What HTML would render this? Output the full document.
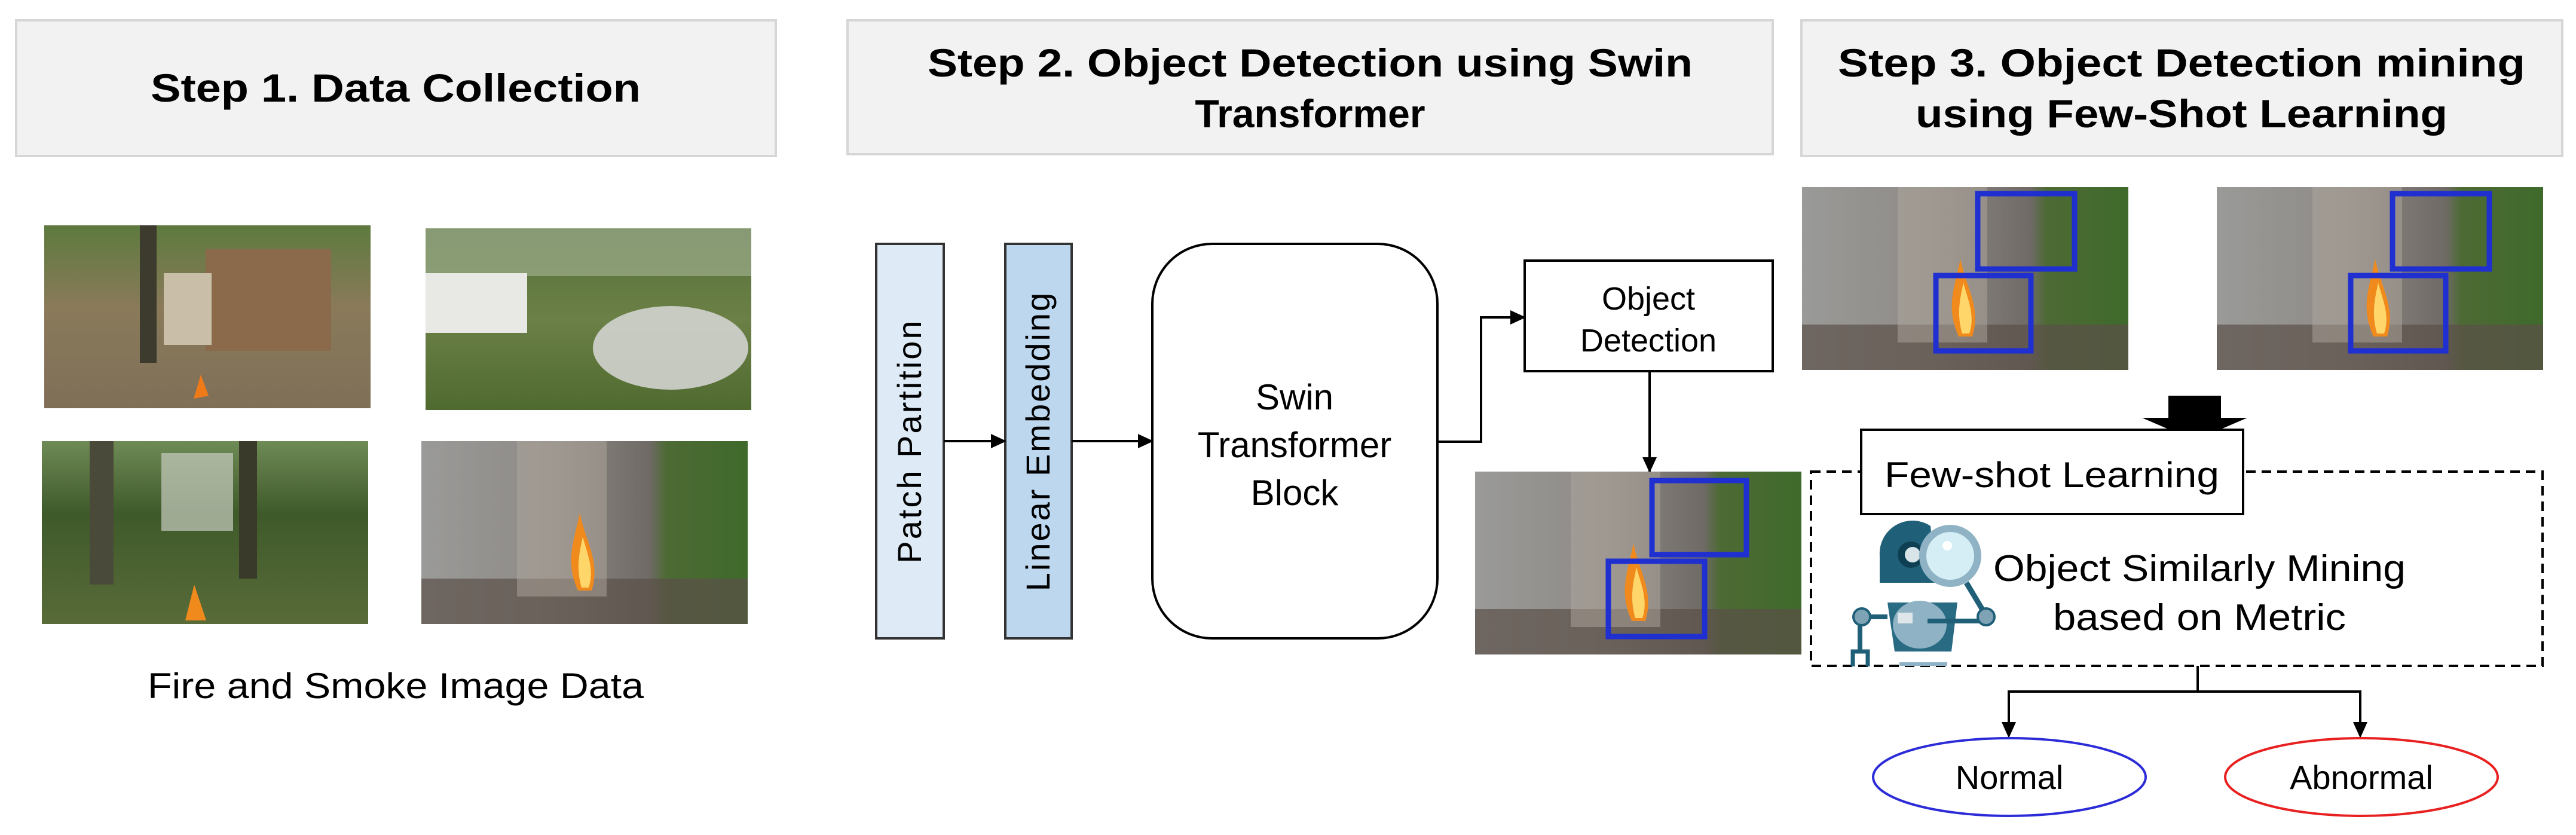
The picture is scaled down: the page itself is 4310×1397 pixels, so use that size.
<!DOCTYPE html>
<html><head><meta charset="utf-8"><style>
html,body{margin:0;padding:0;background:#fff;}
svg{display:block;}
text{font-family:"Liberation Sans",sans-serif;}
</style></head><body>
<svg width="4310" height="1397" viewBox="0 0 4310 1397" xmlns="http://www.w3.org/2000/svg">
<defs>
<linearGradient id="g1" x1="0" y1="0" x2="0" y2="1"><stop offset="0" stop-color="#5d7a3e"/><stop offset="0.45" stop-color="#8a7a5a"/><stop offset="1" stop-color="#7f6f58"/></linearGradient>
<linearGradient id="g2" x1="0" y1="0" x2="0" y2="1"><stop offset="0" stop-color="#55713a"/><stop offset="0.5" stop-color="#6b8046"/><stop offset="1" stop-color="#4f6a2f"/></linearGradient>
<linearGradient id="g3" x1="0" y1="0" x2="0" y2="1"><stop offset="0" stop-color="#6e8a55"/><stop offset="0.4" stop-color="#3f5a2a"/><stop offset="1" stop-color="#586b38"/></linearGradient>
<linearGradient id="g4" x1="0" y1="0" x2="1" y2="0"><stop offset="0" stop-color="#9a9a98"/><stop offset="0.4" stop-color="#8e8a86"/><stop offset="0.7" stop-color="#6f6a66"/><stop offset="0.75" stop-color="#4d6a34"/><stop offset="1" stop-color="#3f6a2c"/></linearGradient>
<marker id="ah" markerWidth="26" markerHeight="24" refX="24" refY="12" orient="auto" markerUnits="userSpaceOnUse" viewBox="0 0 26 24"><path d="M0,0 L26,12 L0,24 z" fill="#000"/></marker>
<g id="fireimg">
<rect x="0" y="0" width="546" height="306" fill="url(#g4)"/>
<rect x="0" y="230" width="546" height="76" fill="#5b5048" opacity="0.7"/>
<rect x="160" y="0" width="150" height="260" fill="#b0a89e" opacity="0.5"/>
<path d="M262,250 C240,200 255,170 265,120 C275,170 300,200 285,250 z" fill="#f08a1c"/>
<path d="M268,245 C258,210 265,185 270,160 C278,190 290,215 280,245 z" fill="#ffd66a"/>
</g>
</defs>

<!-- Headers -->
<rect x="27" y="34" width="1271" height="227" fill="#f2f2f2" stroke="#d6d6d6" stroke-width="4"/>
<text x="662" y="170" font-size="66" font-weight="bold" text-anchor="middle" textLength="820" lengthAdjust="spacingAndGlyphs">Step 1. Data Collection</text>
<rect x="1418" y="34" width="1548" height="224" fill="#f2f2f2" stroke="#d6d6d6" stroke-width="4"/>
<text x="2192" y="128" font-size="66" font-weight="bold" text-anchor="middle" textLength="1280" lengthAdjust="spacingAndGlyphs">Step 2. Object Detection using Swin</text>
<text x="2192" y="213" font-size="66" font-weight="bold" text-anchor="middle">Transformer</text>
<rect x="3014" y="34" width="1273" height="227" fill="#f2f2f2" stroke="#d6d6d6" stroke-width="4"/>
<text x="3650" y="128" font-size="66" font-weight="bold" text-anchor="middle" textLength="1150" lengthAdjust="spacingAndGlyphs">Step 3. Object Detection mining</text>
<text x="3650" y="213" font-size="66" font-weight="bold" text-anchor="middle" textLength="890" lengthAdjust="spacingAndGlyphs">using Few-Shot Learning</text>

<!-- Step 1 images -->
<g transform="translate(74,377)">
<rect width="546" height="306" fill="url(#g1)"/>
<rect x="270" y="40" width="210" height="170" fill="#8a6a4a"/>
<rect x="200" y="80" width="80" height="120" fill="#c9bfa8"/>
<rect x="160" y="0" width="28" height="230" fill="#3d3a2e"/>
<path d="M250,290 L262,250 L275,285 z" fill="#f07a18"/>
</g>
<g transform="translate(712,382)">
<rect width="545" height="304" fill="url(#g2)"/>
<rect x="0" y="0" width="545" height="80" fill="#a8b59a" opacity="0.6"/>
<rect x="0" y="75" width="170" height="100" fill="#e8e8e4"/>
<ellipse cx="410" cy="200" rx="130" ry="70" fill="#d8d8d8" opacity="0.85"/>
</g>
<g transform="translate(70,738)">
<rect width="546" height="306" fill="url(#g3)"/>
<rect x="200" y="20" width="120" height="130" fill="#c8ccc0" opacity="0.7"/>
<rect x="80" y="0" width="40" height="240" fill="#4a4a3a"/>
<rect x="330" y="0" width="30" height="230" fill="#3a3a2a"/>
<path d="M240,300 L255,240 L275,300 z" fill="#f08a1c"/>
</g>
<use href="#fireimg" x="705" y="738"/>
<text x="662" y="1168" font-size="60" text-anchor="middle" textLength="830" lengthAdjust="spacingAndGlyphs">Fire and Smoke Image Data</text>

<!-- Step 2 -->
<rect x="1466" y="408" width="113" height="660" fill="#deebf7" stroke="#333" stroke-width="4"/>
<text transform="translate(1541,738) rotate(-90)" font-size="56" text-anchor="middle" letter-spacing="3">Patch Partition</text>
<rect x="1682" y="408" width="111" height="660" fill="#bdd7ee" stroke="#333" stroke-width="4"/>
<text transform="translate(1756,738) rotate(-90)" font-size="56" text-anchor="middle" letter-spacing="3">Linear Embedding</text>
<line x1="1579" y1="738" x2="1682" y2="738" stroke="#000" stroke-width="4" marker-end="url(#ah)"/>
<line x1="1793" y1="738" x2="1928" y2="738" stroke="#000" stroke-width="4" marker-end="url(#ah)"/>
<rect x="1928" y="408" width="477" height="660" rx="100" fill="#fff" stroke="#000" stroke-width="4"/>
<text x="2166" y="685" font-size="60" text-anchor="middle">Swin</text>
<text x="2166" y="765" font-size="60" text-anchor="middle">Transformer</text>
<text x="2166" y="845" font-size="60" text-anchor="middle">Block</text>
<polyline points="2405,739 2478,739 2478,531 2551,531" fill="none" stroke="#000" stroke-width="4" marker-end="url(#ah)"/>
<rect x="2551" y="436" width="415" height="185" fill="#fff" stroke="#000" stroke-width="4"/>
<text x="2758" y="518" font-size="54" text-anchor="middle">Object</text>
<text x="2758" y="588" font-size="54" text-anchor="middle">Detection</text>
<line x1="2760" y1="621" x2="2760" y2="789" stroke="#000" stroke-width="4" marker-end="url(#ah)"/>
<use href="#fireimg" x="2468" y="789"/>
<rect x="2764" y="804" width="158" height="124" fill="none" stroke="#1f2fd0" stroke-width="9"/>
<rect x="2691" y="939" width="161" height="126" fill="none" stroke="#1f2fd0" stroke-width="9"/>

<!-- Step 3 -->
<use href="#fireimg" x="3015" y="313"/>
<rect x="3309" y="324" width="162" height="126" fill="none" stroke="#1f2fd0" stroke-width="9"/>
<rect x="3239" y="461" width="159" height="126" fill="none" stroke="#1f2fd0" stroke-width="9"/>
<use href="#fireimg" x="3709" y="313"/>
<rect x="4003" y="324" width="162" height="126" fill="none" stroke="#1f2fd0" stroke-width="9"/>
<rect x="3933" y="461" width="159" height="126" fill="none" stroke="#1f2fd0" stroke-width="9"/>

<rect x="3030" y="789" width="1224" height="325" fill="none" stroke="#000" stroke-width="4" stroke-dasharray="16,10"/>
<path d="M3628,662 L3716,662 L3716,699 L3760,699 L3672,737 L3584,699 L3628,699 z" fill="#000"/>
<rect x="3114" y="719" width="639" height="141" fill="#fff" stroke="#000" stroke-width="4"/>
<text x="3433" y="815" font-size="60" text-anchor="middle" textLength="560" lengthAdjust="spacingAndGlyphs">Few-shot Learning</text>

<!-- robot -->
<g>
<path d="M3145,975 L3145,930 A55,55 0 0 1 3230,880 L3240,975 z" fill="#1f5f78"/>
<circle cx="3197" cy="928" r="22" fill="#0f3f52"/>
<circle cx="3200" cy="928" r="13" fill="#d8e4e8"/>
<line x1="3290" y1="975" x2="3323" y2="1030" stroke="#1f5f78" stroke-width="9"/>
<circle cx="3263" cy="930" r="52" fill="#8fb3c4"/>
<circle cx="3263" cy="930" r="40" fill="#d5eef5"/>
<circle cx="3258" cy="913" r="8" fill="#fff"/>
<path d="M3158,1008 L3275,1008 L3265,1090 L3170,1090 z" fill="#2a6b84"/>
<ellipse cx="3212" cy="1045" rx="45" ry="40" fill="#8fb3c4"/>
<rect x="3175" y="1025" width="25" height="18" fill="#dfe6ea"/>
<line x1="3225" y1="1039" x2="3320" y2="1039" stroke="#1f5f78" stroke-width="8"/>
<circle cx="3323" cy="1032" r="14" fill="#7ea3b5" stroke="#1f5f78" stroke-width="4"/>
<line x1="3115" y1="1032" x2="3158" y2="1032" stroke="#1f5f78" stroke-width="8"/>
<circle cx="3115" cy="1032" r="14" fill="#7ea3b5" stroke="#1f5f78" stroke-width="4"/>
<line x1="3112" y1="1046" x2="3112" y2="1090" stroke="#1f5f78" stroke-width="8"/>
<path d="M3100,1115 L3100,1090 L3125,1090 L3125,1115" fill="none" stroke="#1f5f78" stroke-width="7"/>
<rect x="3178" y="1108" width="80" height="6" fill="#8fb3c4"/>
</g>
<text x="3680" y="972" font-size="62" text-anchor="middle" textLength="690" lengthAdjust="spacingAndGlyphs">Object Similarly Mining</text>
<text x="3680" y="1054" font-size="62" text-anchor="middle" textLength="490" lengthAdjust="spacingAndGlyphs">based on Metric</text>

<polyline points="3677,1114 3677,1157" fill="none" stroke="#000" stroke-width="4"/>
<polyline points="3361,1212 3361,1157 3949,1157 3949,1212" fill="none" stroke="#000" stroke-width="4"/>
<path d="M3349,1208 L3373,1208 L3361,1235 z" fill="#000"/>
<path d="M3937,1208 L3961,1208 L3949,1235 z" fill="#000"/>
<ellipse cx="3362" cy="1300" rx="228" ry="65" fill="#fff" stroke="#2b2bd8" stroke-width="4"/>
<text x="3362" y="1320" font-size="56" text-anchor="middle">Normal</text>
<ellipse cx="3951" cy="1300" rx="228" ry="65" fill="#fff" stroke="#e82020" stroke-width="4"/>
<text x="3951" y="1320" font-size="56" text-anchor="middle">Abnormal</text>
</svg>
</body></html>
